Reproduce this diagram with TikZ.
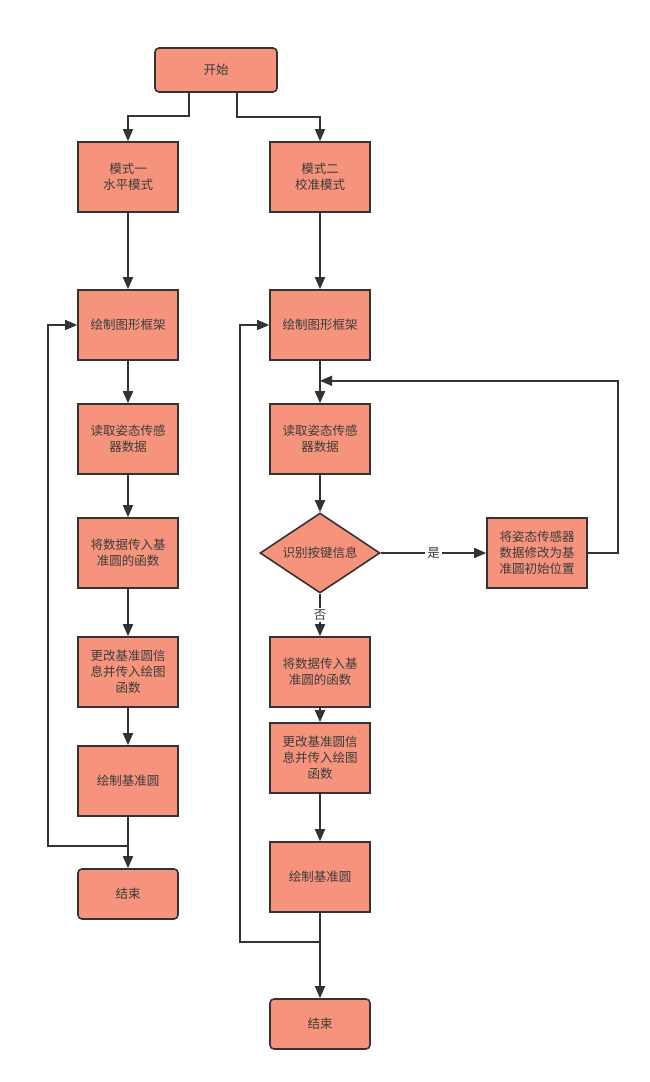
\documentclass[tikz,border=0pt]{standalone}
\usepackage{fontspec}
\newfontfamily\cjk{Noto Sans CJK SC}
\usetikzlibrary{arrows.meta,shapes.geometric,calc}
\definecolor{boxfill}{RGB}{245,147,124}
\definecolor{edge}{RGB}{51,51,51}
\definecolor{txt}{RGB}{60,60,60}
\begin{document}
\begin{tikzpicture}[x=1pt,y=-1pt,
  every node/.style={font=\cjk\fontsize{12.5}{16}\selectfont, text=txt},
  pbox/.style={draw=edge, line width=1.6pt, fill=boxfill, minimum width=100pt, minimum height=70pt, align=center, inner sep=2pt},
  rbox/.style={pbox, rounded corners=4pt, minimum height=50pt},
  dbox/.style={draw=edge, line width=1.6pt, fill=boxfill, diamond, aspect=1.5, inner sep=0pt, minimum width=120pt, minimum height=80pt, align=center},
  conn/.style={draw=edge, line width=1.6pt},
  arr/.style={conn, -{Triangle[length=12pt,width=10pt]}},
  lbl/.style={fill=white, inner sep=2pt}
]
\useasboundingbox (0,0) rectangle (649,1082);
% nodes
\node[rbox, minimum width=122pt, minimum height=44pt] (start) at (216,70) {开始};
\node[pbox] (m1) at (128,177) {模式一\\水平模式};
\node[pbox] (m2) at (320,177) {模式二\\校准模式};
% left column
\node[pbox] (L1) at (128,325) {绘制图形框架};
\node[pbox] (L2) at (128,439) {读取姿态传感\\器数据};
\node[pbox] (L3) at (128,553) {将数据传入基\\准圆的函数};
\node[pbox] (L4) at (128,672) {更改基准圆信\\息并传入绘图\\函数};
\node[pbox] (L5) at (128,781) {绘制基准圆};
\node[rbox] (Lend) at (128,894) {结束};
% right column
\node[pbox] (R1) at (320,325) {绘制图形框架};
\node[pbox] (R2) at (320,439) {读取姿态传感\\器数据};
\node[dbox] (dia) at (320,553) {识别按键信息};
\node[pbox] (yb) at (537,553) {将姿态传感器\\数据修改为基\\准圆初始位置};
\node[pbox] (R3) at (320,672) {将数据传入基\\准圆的函数};
\node[pbox] (R4) at (320,758) {更改基准圆信\\息并传入绘图\\函数};
\node[pbox] (R5) at (320,877) {绘制基准圆};
\node[rbox] (Rend) at (320,1024) {结束};
% connectors
\draw[arr] ($(start.south)+(-27,0)$) -- ++(0,23) -| (m1.north);
\draw[arr] ($(start.south)+(21,0)$) -- ++(0,24) -| (m2.north);
\draw[arr] (m1) -- (L1);
\draw[arr] (L1) -- (L2);
\draw[arr] (L2) -- (L3);
\draw[arr] (L3) -- (L4);
\draw[arr] (L4) -- (L5);
\draw[arr] (L5) -- (Lend);
\draw[arr] (L5.south) -- ++(0,29) -- ++(-80,0) |- (L1.west);
\draw[arr] (m2) -- (R1);
\draw[arr] (R1) -- (R2);
\draw[arr] (R2) -- (dia);
\draw[arr] (dia.east) -- node[lbl] {是} (yb.west);
\coordinate (join) at ($(R1.south)+(0,20)$);
\draw[arr] (yb.east) -- ++(30,0) |- (join);
\draw[arr] (dia.south) -- node[lbl] {否} (R3.north);
\draw[arr] (R3) -- (R4);
\draw[arr] (R4) -- (R5);
\draw[arr] (R5) -- (Rend);
\draw[arr] (R5.south) -- ++(0,29) -- ++(-80,0) |- (R1.west);
\end{tikzpicture}
\end{document}
